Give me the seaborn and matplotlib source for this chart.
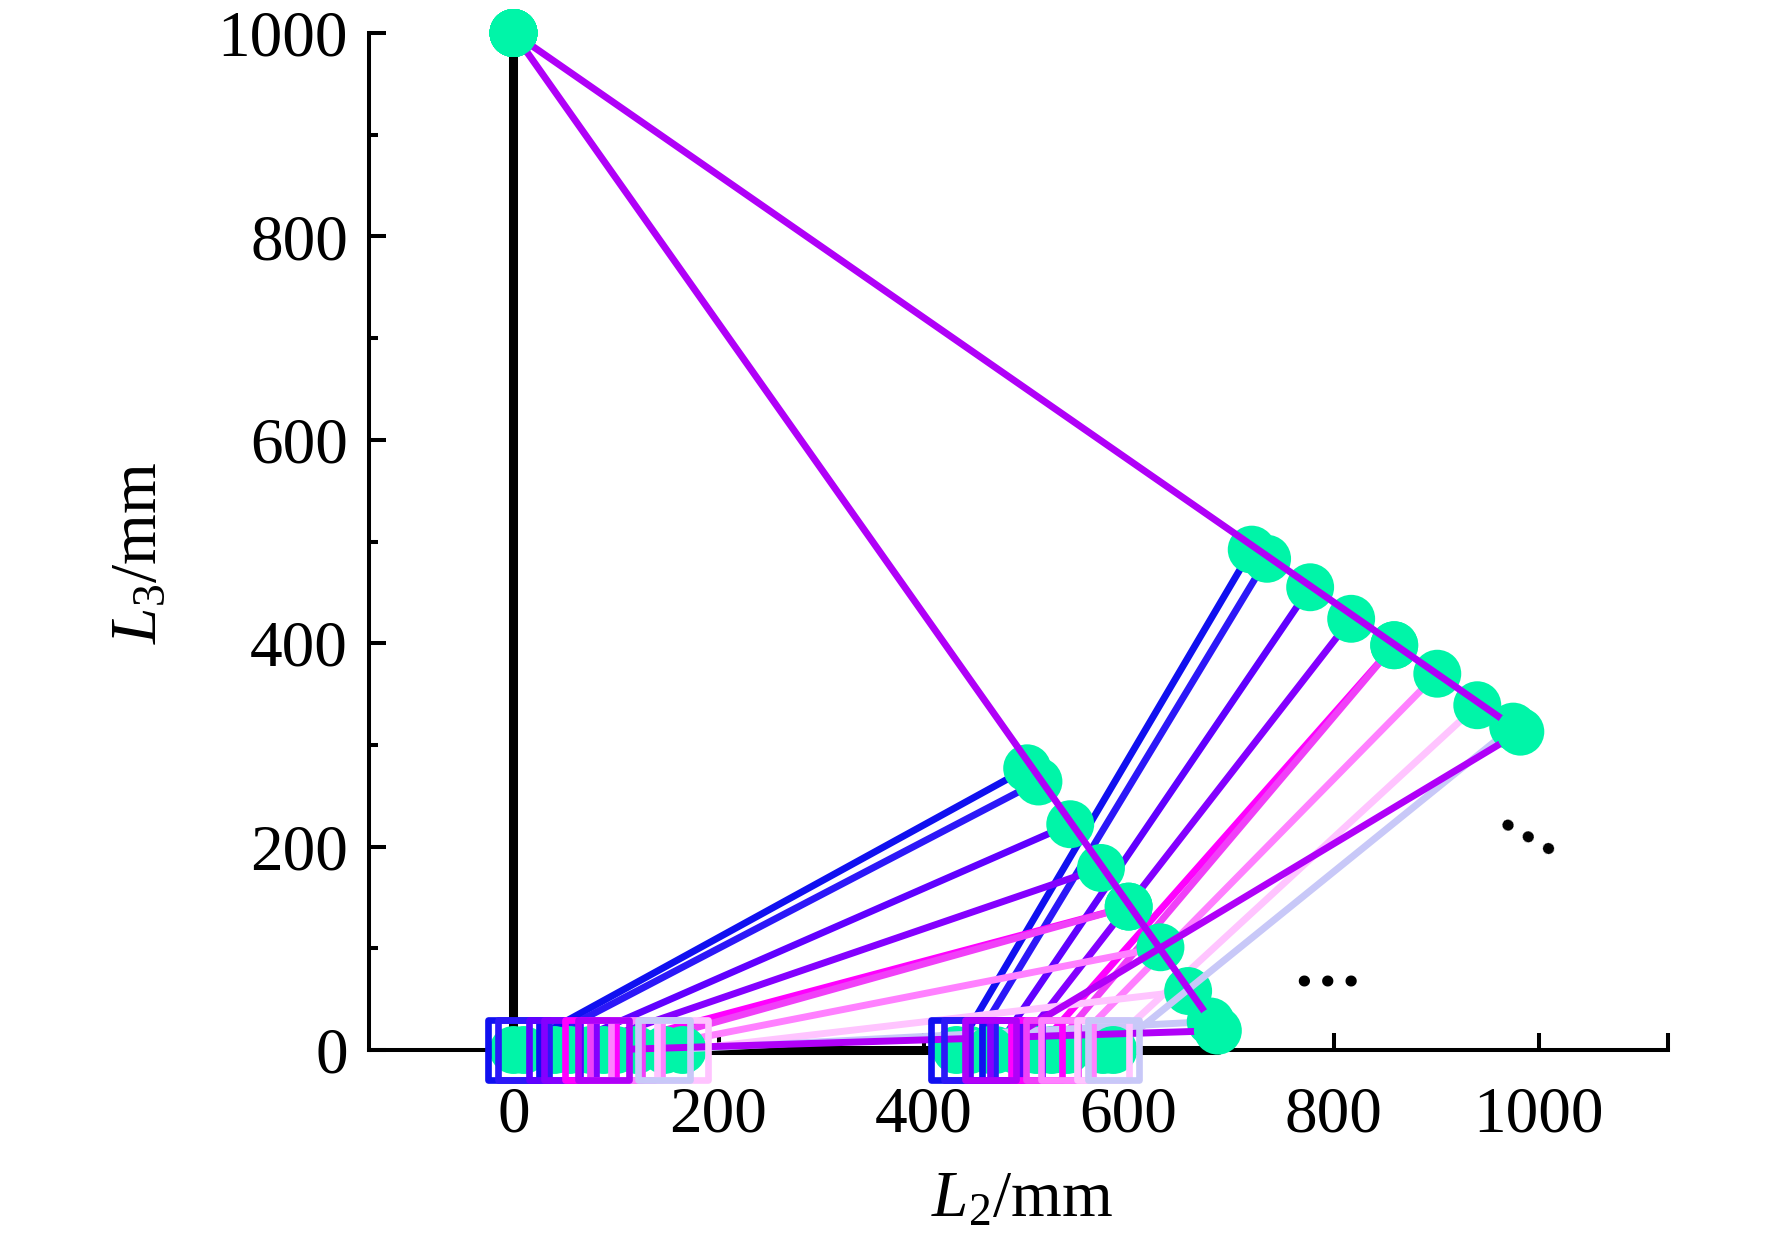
import numpy as np
import pandas as pd
import matplotlib
matplotlib.use("Agg")
import matplotlib.pyplot as plt
import seaborn as sns
from matplotlib.path import Path
from matplotlib.ticker import FixedLocator

# ---------------- data ----------------
top_pivot = (0, 1000)
ground_x = [0, 0, 687]
ground_y = [1000, 0, 0]

colors = ['#1010F0', '#2C18F8', '#6000FF', '#8400FF', '#FF00FF',
          '#F040F8', '#FF80FF', '#FFC4FF', '#C8C8F8', '#B000F8']
left_base_x = [0, 10, 40, 55, 75, 100, 120, 165, 147, 88]
left_pt_x = [501, 512, 543, 573, 600, 600, 631, 658, 680, 687]
left_pt_y = [277, 264, 222, 179, 141, 141, 101, 58, 28, 19]
right_base_x = [432, 445, 470, 490, 510, 525, 540, 575, 585, 465]
right_pt_x = [720, 735, 777, 817, 859, 859, 901, 940, 975, 982]
right_pt_y = [492, 483, 455, 424, 398, 398, 370, 339, 318, 313]

x_ticks = [0, 200, 400, 600, 800, 1000]
y_ticks = [0, 200, 400, 600, 800, 1000]
y_minor = [100, 300, 500, 700, 900]
x_end = 1126
x_start = -141

green = '#00F5A8'

# ---------------- style ----------------
sns.set_theme(style="ticks")
plt.rcParams['font.family'] = ['Liberation Serif', 'DejaVu Serif']
plt.rcParams['mathtext.fontset'] = 'custom'
plt.rcParams['mathtext.rm'] = 'Liberation Serif'
plt.rcParams['mathtext.it'] = 'Liberation Serif:italic'
plt.rcParams['text.color'] = 'black'

fig = plt.figure(figsize=(17.72, 12.5), dpi=100)
ax = fig.add_axes([0.2082, 0.16, 0.7331, 0.8136])
ax.set_xlim(x_start, x_end)
ax.set_ylim(0, 1000)

rect = Path([(-0.85, -1), (0.85, -1), (0.85, 1), (-0.85, 1), (-0.85, -1)],
            [Path.MOVETO, Path.LINETO, Path.LINETO, Path.LINETO, Path.CLOSEPOLY])

LW = 5.0
n = len(colors)

# ground / initial configuration
sns.lineplot(x=ground_x, y=ground_y, sort=False, estimator=None, color='black',
             lw=6.5, zorder=5, ax=ax, legend=False, clip_on=False)

for i, col in enumerate(colors):
    z = 10 + 3 * i
    # links from the base points to the joints
    sns.lineplot(x=[left_base_x[i], left_pt_x[i]], y=[0, left_pt_y[i]], sort=False,
                 estimator=None, color=col, lw=LW, zorder=z, ax=ax, legend=False,
                 clip_on=False)
    sns.lineplot(x=[right_base_x[i], right_pt_x[i]], y=[0, right_pt_y[i]], sort=False,
                 estimator=None, color=col, lw=LW, zorder=z, ax=ax, legend=False,
                 clip_on=False)
    if i == n - 1:
        # arms from the top pivot (earlier ones lie hidden beneath the last one)
        sns.lineplot(x=[left_pt_x[i], top_pivot[0], right_pt_x[i]],
                     y=[left_pt_y[i], top_pivot[1], right_pt_y[i]], sort=False,
                     estimator=None, color=col, lw=LW, zorder=z + 1, ax=ax,
                     legend=False, clip_on=False)
    cx = [top_pivot[0], left_pt_x[i], right_pt_x[i], left_base_x[i], right_base_x[i]]
    cy = [top_pivot[1], left_pt_y[i], right_pt_y[i], 0, 0]
    sns.scatterplot(x=cx, y=cy, s=1190, color=green, edgecolor='none', linewidth=0,
                    zorder=z + 2, ax=ax, legend=False, clip_on=False)

for i, col in enumerate(colors):
    sns.scatterplot(x=[left_base_x[i], right_base_x[i]], y=[0, 0], marker=rect,
                    s=1900, color=col, facecolor='none', edgecolor=col,
                    linewidth=4.8, zorder=60 + i, ax=ax, legend=False, clip_on=False)

# ---------------- axes ----------------
for s in ['top', 'right']:
    ax.spines[s].set_visible(False)
for s in ['left', 'bottom']:
    ax.spines[s].set_linewidth(2.9)
    ax.spines[s].set_color('black')
    ax.spines[s].set_zorder(2)

ax.set_xticks(x_ticks)
ax.set_xticklabels([str(v) for v in x_ticks])
ax.set_yticks(y_ticks)
ax.set_yticklabels([str(v) for v in y_ticks])
ax.yaxis.set_minor_locator(FixedLocator(y_minor))
ax.xaxis.set_minor_locator(FixedLocator([x_end]))

ax.tick_params(axis='both', which='major', direction='in', length=12, width=2.9,
               labelsize=47, color='black', labelcolor='black')
ax.tick_params(axis='y', which='minor', direction='in', length=6.5, width=2.9, color='black')
ax.tick_params(axis='x', which='minor', direction='in', length=12, width=2.9, color='black')
ax.tick_params(axis='x', which='major', pad=26)
ax.tick_params(axis='y', which='major', pad=15)
ax.grid(False)

fig.text(0.079, 0.558, r'$L_3$/mm', rotation=90, ha='center', va='center',
         fontsize=47, color='black')
fig.text(0.577, 0.040, r'$L_2$/mm', ha='center', va='center', fontsize=47,
         color='black')

# ellipsis marks
ax.text(793, 62, '…', ha='center', va='baseline', fontsize=50, fontweight='bold',
        color='black', zorder=80)
ax.text(985, 203, '…', ha='center', va='baseline', fontsize=50, fontweight='bold',
        color='black', rotation=-30, rotation_mode='anchor', zorder=80)

fig.savefig('out.png', dpi=100, facecolor='white')
